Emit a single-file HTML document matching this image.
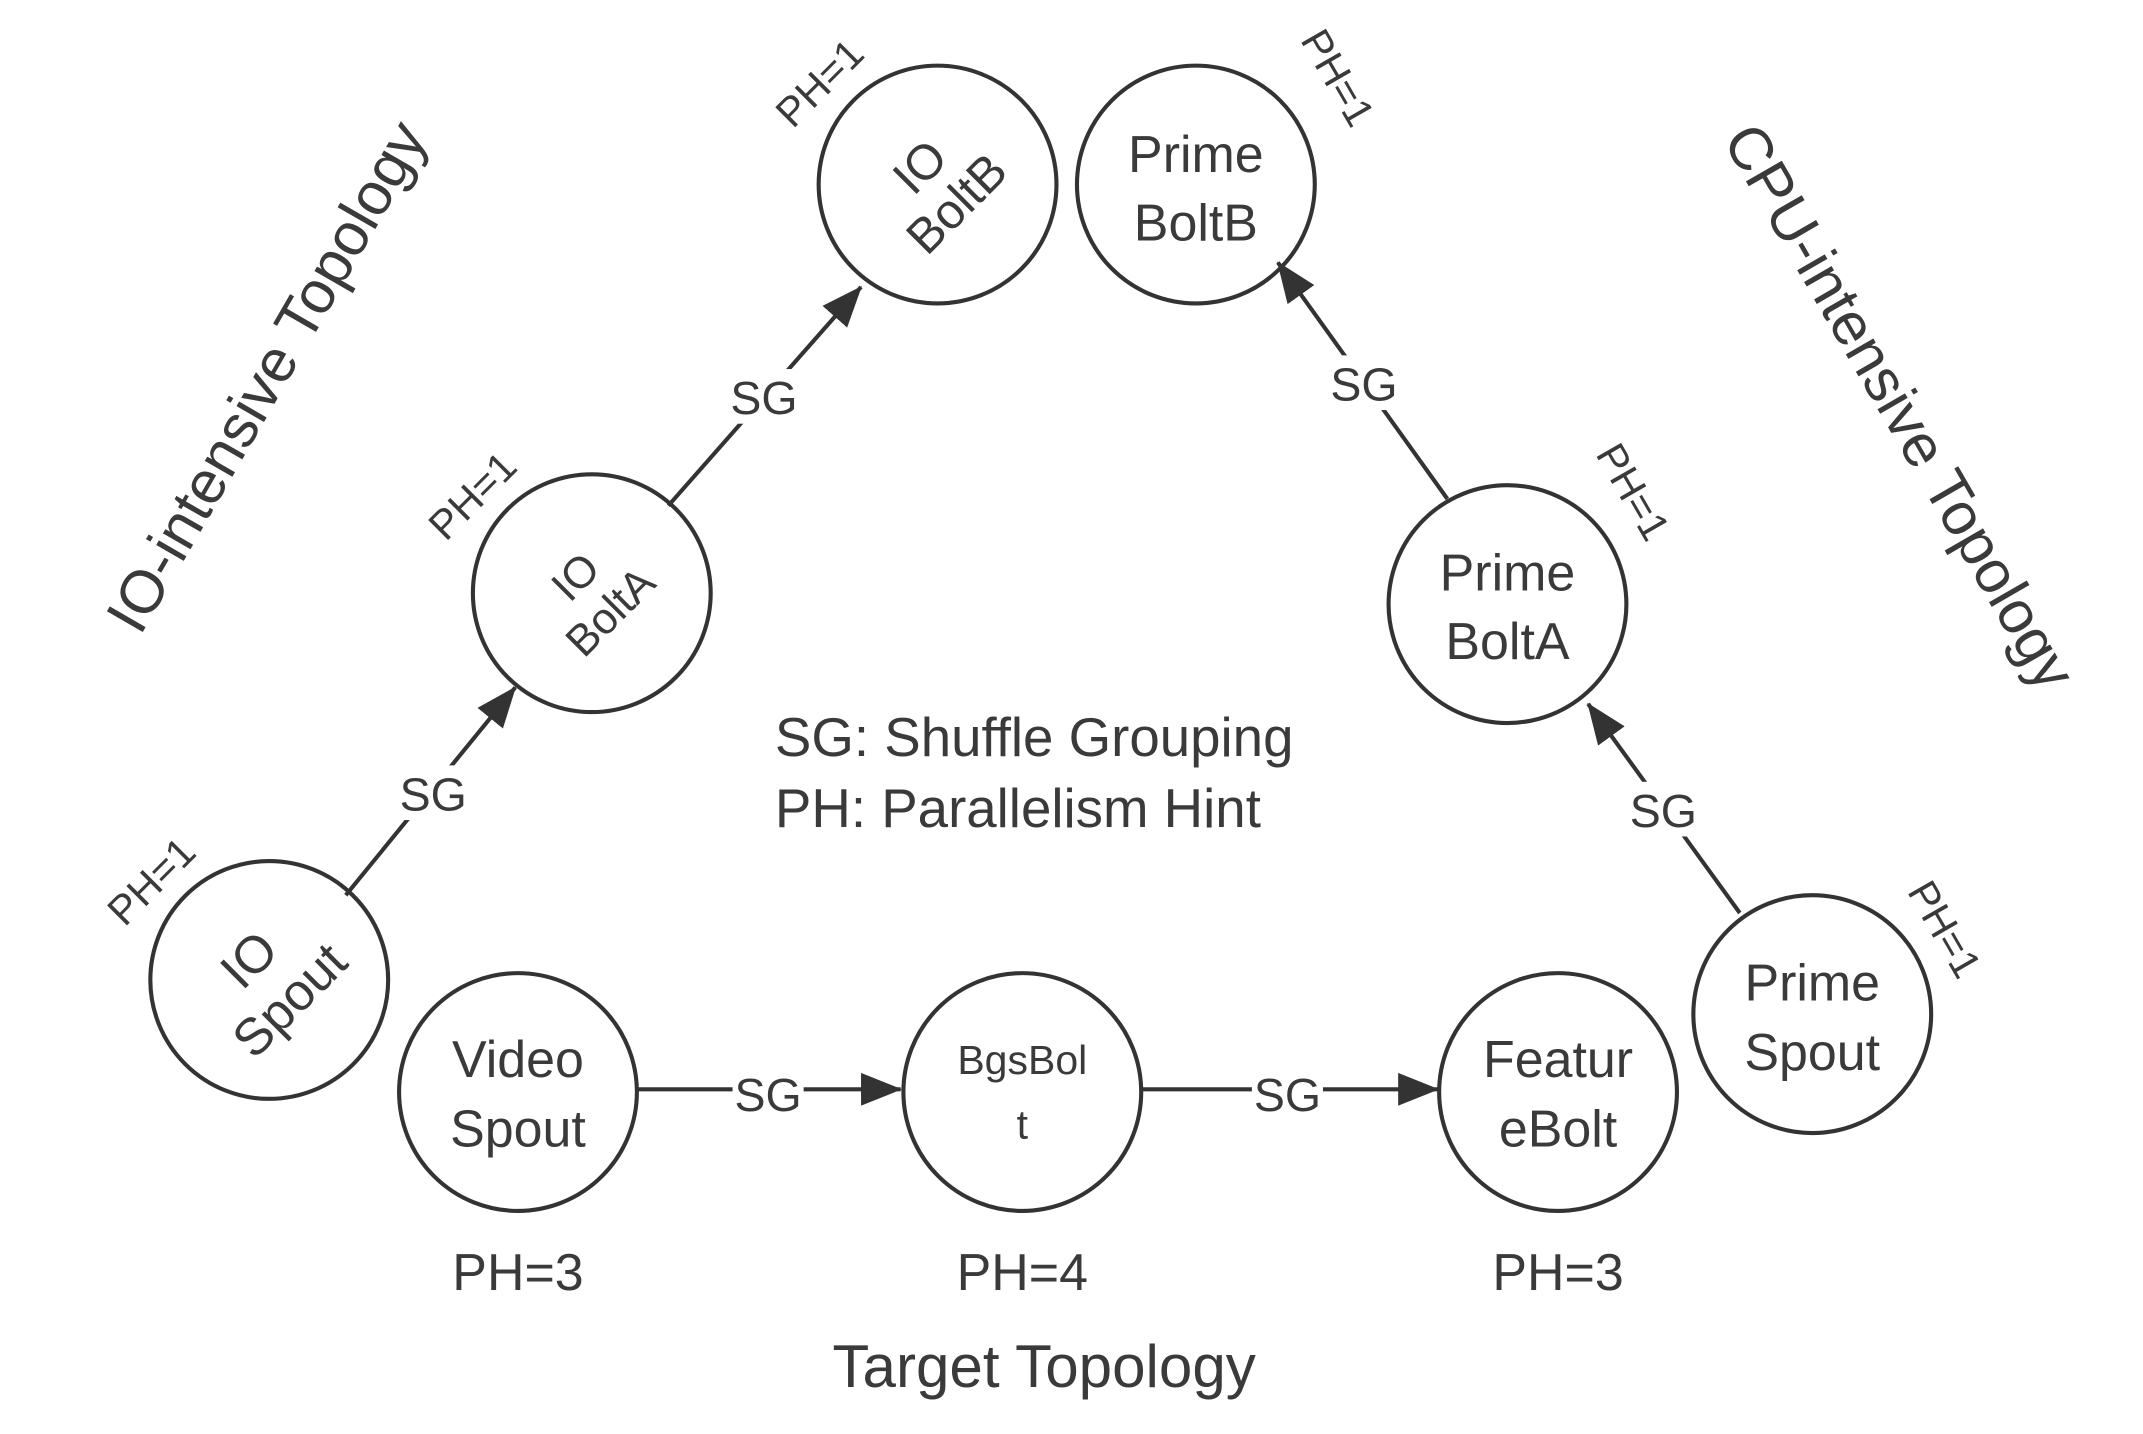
<!DOCTYPE html>
<html><head><meta charset="utf-8"><style>
html,body{margin:0;padding:0;background:#fff;}
svg{display:block;}
text{font-family:"Liberation Sans","DejaVu Sans",sans-serif;fill:#3a3a3a;}
</style></head><body>
<svg width="2143" height="1434" viewBox="0 0 1568 1049.2" xmlns="http://www.w3.org/2000/svg">
<defs><marker id="a" markerWidth="10" markerHeight="10" refX="9" refY="5" orient="auto" markerUnits="userSpaceOnUse" viewBox="0 0 10 10"><path d="M0,0 L10,5 L0,10z" fill="#333"/></marker>
<marker id="b" markerWidth="30" markerHeight="24" refX="29" refY="12" orient="auto" markerUnits="userSpaceOnUse"><path d="M0,0 L30,12 L0,24z" fill="#333"/></marker></defs>
<g fill="none" stroke="#333" stroke-width="3">
<circle cx="197" cy="717" r="87"/>
<circle cx="433" cy="434" r="87"/>
<circle cx="686" cy="135" r="87"/>
<circle cx="875" cy="135" r="87"/>
<circle cx="1103" cy="442" r="87"/>
<circle cx="1326" cy="742" r="87"/>
<circle cx="379" cy="799" r="87"/>
<circle cx="748" cy="799" r="87"/>
<circle cx="1140" cy="799" r="87"/>
<line x1="253" y1="655" x2="377" y2="503" marker-end="url(#b)"/>
<line x1="489" y1="370" x2="630" y2="210" marker-end="url(#b)"/>
<line x1="1059" y1="365" x2="935" y2="192" marker-end="url(#b)"/>
<line x1="1273" y1="668" x2="1162" y2="515" marker-end="url(#b)"/>
<line x1="467" y1="797" x2="659" y2="797" marker-end="url(#b)"/>
<line x1="836" y1="797" x2="1052" y2="797" marker-end="url(#b)"/>
</g>
<g fill="#fff">
<rect x="292" y="560" width="50" height="40"/><rect x="533" y="270" width="52" height="40"/>
<rect x="972" y="260" width="52" height="40"/><rect x="1191" y="572" width="52" height="40"/>
<rect x="536" y="780" width="52" height="40"/><rect x="916" y="780" width="52" height="40"/>
</g>
<g font-size="34" text-anchor="middle">
<text x="317" y="593">SG</text><text x="559" y="303">SG</text><text x="998" y="293">SG</text>
<text x="1217" y="605">SG</text><text x="562" y="813">SG</text><text x="942" y="813">SG</text>
</g>
<g font-size="38" text-anchor="middle">
<text transform="translate(197,717) rotate(-45)"><tspan x="0" y="-8">IO</tspan><tspan x="0" y="34">Spout</tspan></text>
<text transform="translate(433,434) rotate(-45)" font-size="32"><tspan x="0" y="-6">IO</tspan><tspan x="0" y="30">BoltA</tspan></text>
<text transform="translate(686,135) rotate(-45)" font-size="36"><tspan x="0" y="-6">IO</tspan><tspan x="0" y="32">BoltB</tspan></text>
<text x="875" y="126">Prime</text><text x="875" y="176">BoltB</text>
<text x="1103" y="432">Prime</text><text x="1103" y="482">BoltA</text>
<text x="1326" y="732">Prime</text><text x="1326" y="783">Spout</text>
<text x="379" y="788">Video</text><text x="379" y="839">Spout</text>
<text x="748" y="786" font-size="30">BgsBol</text><text x="748" y="833" font-size="30">t</text>
<text x="1140" y="788">Featur</text><text x="1140" y="839">eBolt</text>
<text x="379" y="944">PH=3</text><text x="748" y="944">PH=4</text><text x="1140" y="944">PH=3</text>
</g>
<g font-size="30" text-anchor="middle">
<text transform="translate(118,652) rotate(-45)">PH=1</text>
<text transform="translate(353,370) rotate(-45)">PH=1</text>
<text transform="translate(607,68) rotate(-45)">PH=1</text>
<text transform="translate(970,62) rotate(60)">PH=1</text>
<text transform="translate(1186,365) rotate(60)">PH=1</text>
<text transform="translate(1414,685) rotate(60)">PH=1</text>
</g>
<text transform="translate(208,283) rotate(-60)" font-size="44" text-anchor="middle">IO-intensive Topology</text>
<text transform="translate(1377,305) rotate(60)" font-size="44" text-anchor="middle">CPU-intensive Topology</text>
<text x="567" y="553" font-size="40">SG: Shuffle Grouping</text>
<text x="567" y="605" font-size="40">PH: Parallelism Hint</text>
<text x="764" y="1015" font-size="44" text-anchor="middle">Target Topology</text>
</svg>
</body></html>
